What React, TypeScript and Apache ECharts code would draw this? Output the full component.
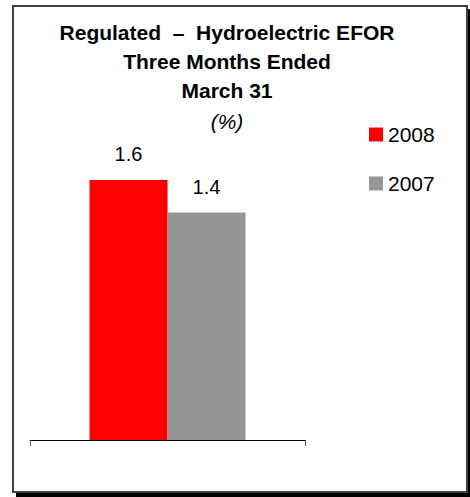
import React, { useEffect, useRef } from "react";
import * as echarts from "echarts";

const titleLines = ["Regulated  –  Hydroelectric EFOR", "Three Months Ended", "March 31"];
const subtitle = "(%)";
const categories = [""];
const seriesNames = ["2008", "2007"];
const values2008 = [1.6];
const values2007 = [1.4];
const seriesColors = ["#FF0000", "#969696"];

export default function App() {
  const ref = useRef<HTMLDivElement>(null);
  useEffect(() => {
    document.body.style.margin = "0";
    if (!ref.current) return;
    const chart = echarts.init(ref.current, null, { renderer: "svg" });
    const font = "'Liberation Sans', Arial, sans-serif";
    const label = {
      show: true,
      position: "top" as const,
      distance: 16,
      fontSize: 20,
      fontFamily: font,
      color: "#000",
      formatter: (p: any) => Number(p.value).toFixed(1),
    };
    chart.setOption({
      animation: false,
      textStyle: { fontFamily: font },
      title: {
        text: titleLines.join("\n"),
        subtext: subtitle,
        left: 227,
        top: 18,
        padding: 0,
        textAlign: "center",
        itemGap: 2,
        textStyle: { fontSize: 21, fontWeight: "bold", color: "#000", lineHeight: 29, fontFamily: font },
        subtextStyle: { fontSize: 21, fontStyle: "italic", color: "#000", lineHeight: 29, fontFamily: font },
      },
      legend: {
        orient: "vertical",
        left: 369,
        top: 124,
        padding: 0,
        itemGap: 28,
        itemWidth: 14,
        itemHeight: 14,
        icon: "rect",
        data: seriesNames,
        textStyle: { fontSize: 21, color: "#000", fontFamily: font },
      },
      grid: { left: 30, right: 165, top: 115, bottom: 57 },
      xAxis: {
        type: "category",
        data: categories,
        axisLine: { lineStyle: { color: "#000", width: 1 } },
        axisTick: { show: true, length: 6, lineStyle: { color: "#555" } },
        axisLabel: { show: false },
      },
      yAxis: { type: "value", min: 0, max: 2, show: false, splitLine: { show: false } },
      graphic: [
        { type: "rect", z: -10, shape: { x: 468, y: 9, width: 2, height: 488 }, style: { fill: "#000" } },
        { type: "rect", z: -10, shape: { x: 16, y: 493, width: 454, height: 4 }, style: { fill: "#000" } },
        { type: "rect", z: -10, shape: { x: 13, y: 6, width: 454, height: 486 }, style: { fill: "none", stroke: "#404040", lineWidth: 2 } },
      ],
      series: [
        { name: seriesNames[0], type: "bar", data: values2008, barWidth: 78, barGap: "0%", itemStyle: { color: seriesColors[0] }, label },
        { name: seriesNames[1], type: "bar", data: values2007, barWidth: 78, barGap: "0%", itemStyle: { color: seriesColors[1] }, label },
      ],
    });
    return () => chart.dispose();
  }, []);
  return <div ref={ref} style={{ position: "absolute", left: 0, top: 0, width: 470, height: 497 }} />;
}
